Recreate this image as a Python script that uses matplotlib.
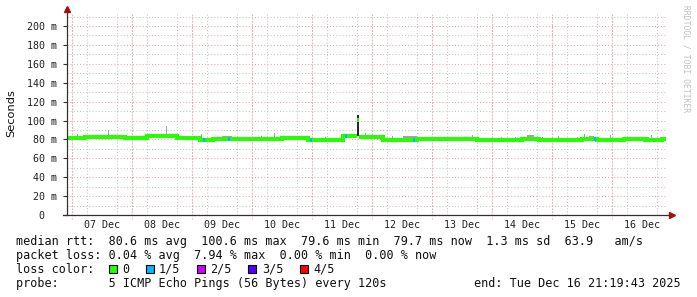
import matplotlib
matplotlib.use('Agg')
import matplotlib.pyplot as plt
import matplotlib.dates as mdates
from matplotlib.ticker import MultipleLocator, FuncFormatter
from matplotlib.patches import Rectangle
import numpy as np
from datetime import datetime

# time span of the graph (x axis)
start = datetime(2025, 12, 6, 22, 0, 0)
span_hours = 240.0

# median rtt in ms, as steps: hours after start -> value
med_hours = [0, 7.2, 23.2, 32, 44, 53.2, 58.4, 66.4, 86, 96.4, 110.4, 116, 116.8,
             126.4, 140, 147.2, 158, 164, 182, 188.8, 206, 212, 222.8, 231.2, 238]
med_ms = [81.6, 82.8, 82.0, 83.4, 82.0, 79.8, 80.6, 80.0, 81.0, 79.6, 83.2, 100.6, 82.4,
          79.6, 80.4, 80.0, 80.5, 79.6, 80.5, 79.6, 80.5, 79.6, 80.0, 79.6, 80.0]
med_last = 239.6

# smoke (spread of the pings): start hour, end hour, top in ms
smoke_start = [4.0, 7.2, 16.4, 19.2, 22.4, 33.2, 39.6, 41.2, 48.4, 53.6, 62.0, 77.6,
               82.8, 86.0, 103.2, 111.2, 116.0, 119.2, 130.0, 134.4, 152.0, 162.0,
               173.6, 179.2, 184.0, 190.0, 196.4, 204.0, 206.8, 208.8, 217.2, 230.0, 233.6]
smoke_end = [4.4, 9.2, 16.8, 21.2, 22.8, 36.4, 40.0, 43.6, 48.8, 54.0, 66.0, 78.0,
             83.2, 92.0, 103.6, 115.6, 116.8, 119.6, 130.4, 140.0, 152.4, 162.4,
             174.0, 179.6, 186.8, 190.4, 196.8, 204.4, 207.2, 210.8, 217.6, 232.8, 234.0]
smoke_top = [85.7, 84.0, 90.0, 85.0, 84.5, 85.5, 94.5, 85.5, 84.0, 86.0, 83.5, 83.6,
             86.7, 83.6, 83.0, 85.0, 105.8, 86.4, 83.5, 83.5, 83.0, 84.6,
             83.0, 83.0, 84.6, 83.0, 83.5, 83.0, 85.7, 83.5, 84.6, 83.0, 84.6]

# samples with packet loss: hour, lost pings out of 5
loss_hours = [54.4, 64.4, 97.2, 111.2, 138.4, 210.8]
loss_level = [1, 1, 1, 1, 1, 1]

loss_colors = ['#26ff00', '#00b8ff', '#d200ff', '#5500ff', '#ff0000']
loss_labels = ['0', '1/5', '2/5', '3/5', '4/5']

legend_rtt = 'median rtt:  80.6 ms avg  100.6 ms max  79.6 ms min  79.7 ms now  1.3 ms sd  63.9   am/s'
legend_loss = 'packet loss: 0.04 % avg  7.94 % max  0.00 % min  0.00 % now'
legend_probe = 'probe:       5 ICMP Echo Pings (56 Bytes) every 120s'
legend_end = 'end: Tue Dec 16 21:19:43 2025'

W, H = 697, 297
t0 = mdates.date2num(start)


def hx(h):
    return t0 + h / 24.0


def med_at(h):
    v = med_ms[0]
    for hh, m in zip(med_hours, med_ms):
        if hh <= h:
            v = m
    return v


MONO = 'DejaVu Sans Mono'
red_grid = '#e8a8a8'
gray_grid = '#c4c4c4'

fig = plt.figure(figsize=(W / 100, H / 100), dpi=100)
ax = fig.add_axes([67 / W, (H - 215) / H, 600 / W, 201 / H])
ax.set_xlim(hx(0), hx(span_hours))
ax.set_ylim(0, 212.7)

# median line as steps; big jumps are not joined
ends = med_hours[1:] + [med_last]
xs, ys = [], []
for i, (h0, h1, v) in enumerate(zip(med_hours, ends, med_ms)):
    if i > 0 and abs(v - med_ms[i - 1]) > 10:
        xs.append(np.nan)
        ys.append(np.nan)
    xs += [hx(h0), hx(h1)]
    ys += [v, v]
ax.plot(xs, ys, color=loss_colors[0], linewidth=2.9,
        solid_joinstyle='miter', solid_capstyle='butt', zorder=4)

# smoke; the tall dark one sits over the median line
for s, e, top in zip(smoke_start, smoke_end, smoke_top):
    base = min(med_at(s), med_at(s - 0.01))
    dark = top - base > 15
    ax.bar(hx(s), top - base, width=(e - s) / 24.0, bottom=base, align='edge',
           color='#262626' if dark else '#a4a4a4', linewidth=0, zorder=5 if dark else 3)
    if dark:
        ax.hlines(med_at(s), hx(s), hx(e), color=loss_colors[0], linewidth=2.9, zorder=6)

# samples with loss
for h, lv in zip(loss_hours, loss_level):
    ax.hlines(med_at(h), hx(h), hx(h + 0.8), color=loss_colors[lv], linewidth=2.9, zorder=6)

# grid
ax.yaxis.set_major_locator(MultipleLocator(20))
ax.yaxis.set_minor_locator(MultipleLocator(10))
ax.yaxis.set_major_formatter(FuncFormatter(lambda v, p: '0  ' if v == 0 else f'{int(v)} m'))
ax.grid(which='minor', axis='y', color=gray_grid, linestyle=(0, (1, 2)), linewidth=0.75)
ax.grid(which='major', axis='y', color=red_grid, linestyle=(0, (1, 2)), linewidth=0.75)
ax.xaxis.set_major_locator(mdates.HourLocator(byhour=12))
ax.xaxis.set_major_formatter(mdates.DateFormatter('%d %b'))
ax.xaxis.set_minor_locator(mdates.HourLocator(byhour=[0, 6, 12, 18]))
ax.grid(which='minor', axis='x', color=gray_grid, linestyle=(0, (1, 2)), linewidth=0.75)
for d in np.arange(np.ceil(hx(0)), hx(span_hours), 1.0):
    ax.axvline(d, ymin=-0.02, color=red_grid, linestyle=(0, (1, 2)), linewidth=0.75,
               clip_on=False, zorder=1)
ax.set_axisbelow(True)

ax.tick_params(axis='x', which='both', length=0, pad=3.5, labelsize=7.2, labelcolor='#202020')
ax.tick_params(axis='y', which='major', length=3, width=0.8, color='#303030', pad=4,
               labelsize=7.2, labelcolor='#202020')
ax.tick_params(axis='y', which='minor', length=0)
for lab in ax.get_xticklabels() + ax.get_yticklabels():
    lab.set_family(MONO)

for sp in ax.spines.values():
    sp.set_visible(False)
# axes with arrows
ax.plot([0, 0], [0, 1.02], transform=ax.transAxes, color='#303030', lw=0.9, clip_on=False, zorder=7)
ax.plot([-0.006, 1.005], [0, 0], transform=ax.transAxes, color='#303030', lw=0.9, clip_on=False, zorder=7)
ax.plot([0], [1.025], marker='^', transform=ax.transAxes, color='#a01010', ms=4, clip_on=False, zorder=8)
ax.plot([1.008], [0], marker='>', transform=ax.transAxes, color='#a01010', ms=4, clip_on=False, zorder=8)

fig.text(11 / W, 1 - 113 / H, 'Seconds', rotation=90, ha='center', va='center',
         fontsize=8.2, family='DejaVu Sans', color='#101010')
fig.text(686 / W, 1 - 5 / H, 'RRDTOOL / TOBI OETIKER', rotation=270, ha='center', va='top',
         fontsize=5.8, family=MONO, color='#c0c0c0')

# legend block
fs = 8.5
cw = 0.602 * fs * 100 / 72


def ftext(x, y, s, **kw):
    fig.text(x / W, 1 - y / H, s, fontsize=fs, family=MONO, color='#101010', va='baseline', **kw)


ftext(16, 245, legend_rtt)
ftext(16, 259, legend_loss)
ftext(16, 273, 'loss color:')
ftext(16, 287, legend_probe)
ftext(681, 287, legend_end, ha='right')

x = 108.5
for col, lab in zip(loss_colors, loss_labels):
    fig.patches.append(Rectangle((x / W, 1 - 273 / H), 8 / W, 8 / H, transform=fig.transFigure,
                                 facecolor=col, edgecolor='#000000', linewidth=0.8))
    ftext(x + 13.5, 273, lab)
    x += 13.5 + len(lab) * cw + 16.5

fig.savefig('out.png', dpi=100)
